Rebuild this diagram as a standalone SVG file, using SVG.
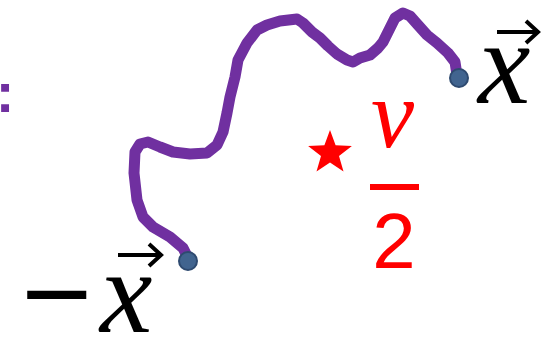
<svg xmlns="http://www.w3.org/2000/svg" width="556" height="337" viewBox="0 0 556 337">
<style>
.math{font-family:"Liberation Serif","DejaVu Serif",serif;font-style:italic}
.arrow{fill:none;stroke:#000;stroke-width:4;stroke-linecap:butt;stroke-linejoin:miter}
.dot{fill:#41648F;stroke:#2E4A70;stroke-width:2}
</style>
<rect width="556" height="337" fill="#fff"/>
<g id="colon"><text x="5" y="112" font-family="Liberation Sans, sans-serif" font-weight="bold" font-size="56" fill="#7030A0" text-anchor="middle">:</text></g>
<g id="connectors">
<path d="M188,258 L183,248 L170,237 L153,227 L143,217 L137,200 L134,173 L135,152 L140,144 L148,142 L160,147 L173,152 L190,154 L207,153 L217,145 L223,132 L227,113 L230,97 L235,77 L238,60 L247,43 L257,30 L267,25 L280,21 L297,19 L303,23 L312,32 L320,38 L328,46 L337,54 L347,60 L353,62 L360,58 L370,55 L378,48 L383,42 L388,32 L395,18 L403,13 L410,16 L418,25 L427,35 L437,43 L448,53 L455,62 L457,75" fill="none" stroke="#7030A0" stroke-width="11" stroke-linejoin="round" stroke-linecap="round"/>
</g>
<g id="start"><circle class="dot" cx="188" cy="261" r="9"/></g>
<g id="end"><circle class="dot" cx="459" cy="78" r="9"/></g>
<g id="label-x">
<text class="math" x="478" y="103" font-size="118">x</text>
<path class="arrow" d="M497,32 L538,32 M526,21 L538,32 L526,43"/>
</g>
<g id="label-negx">
<text x="21" y="333" font-family="Liberation Sans, sans-serif" font-size="115" textLength="71" lengthAdjust="spacingAndGlyphs">−</text>
<text class="math" x="100" y="332" font-size="118">x</text>
<path class="arrow" d="M118,255 L161,255 M149,244 L161,255 L149,266"/>
</g>
<g id="star"><polygon fill="#FF0000" points="330,130 335.6,145.3 351.9,145.9 339,155.9 343.5,171.6 330,162.5 316.5,171.6 321,155.9 308.1,145.9 324.4,145.3"/></g>
<g id="label-v2">
<text class="math" x="371" y="147" font-size="97" fill="#FF0000">v</text>
<rect x="370" y="184" width="49" height="6" fill="#FF0000"/>
<text x="394" y="268" font-family="Liberation Sans, sans-serif" font-size="78" fill="#FF0000" text-anchor="middle">2</text>
</g>
</svg>
